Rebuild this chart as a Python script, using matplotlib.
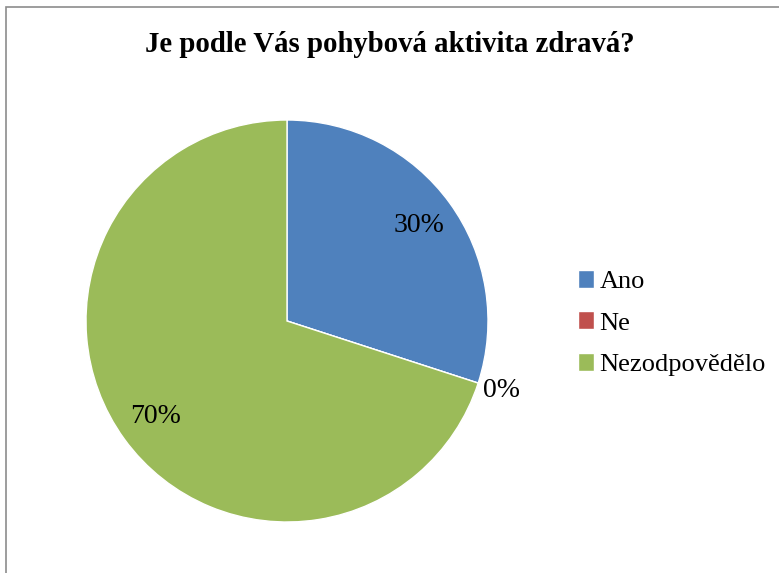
import matplotlib
matplotlib.use("Agg")
import matplotlib.pyplot as plt
from matplotlib.patches import Rectangle
import numpy as np

title = "Je podle Vás pohybová aktivita zdravá?"
categories = ["Ano", "Ne", "Nezodpovědělo"]
values = [30, 0, 70]
colors = ["#4F81BD", "#C0504D", "#9BBB59"]

plt.rcParams['font.family'] = ['Liberation Serif', 'DejaVu Serif']

W, H = 779, 573
fig = plt.figure(figsize=(W / 100, H / 100), dpi=100)

# border
fig.add_artist(Rectangle((6 / W, -0.1), 2, 1 - 7 / H + 0.1, transform=fig.transFigure,
                         fill=False, edgecolor="#8c8c8c", linewidth=1.2))

cx, cy, r = 287, 321, 201
ax = fig.add_axes([(cx - r) / W, (H - cy - r) / H, 2 * r / W, 2 * r / H])
wedges, texts, autotexts = ax.pie(values, colors=colors, startangle=90, counterclock=False,
                                  radius=1, autopct='%1.0f%%', pctdistance=0.81,
                                  wedgeprops=dict(edgecolor="white", linewidth=1),
                                  textprops=dict(fontsize=20, color="black"))
for v, t in zip(values, autotexts):
    if v == 0:
        x, y = t.get_position()
        t.set_position((x * 1.12 / 0.81, y * 1.12 / 0.81))
ax.set_xlim(-1, 1)
ax.set_ylim(-1, 1)
ax.set_aspect('equal')

fig.text(0.5, 1 - 45 / H, title, ha='center', va='center', fontsize=20.7, fontweight='bold')

fig.legend(wedges, categories, loc='center left', bbox_to_anchor=(578 / W, 1 - 323 / H),
           frameon=False, fontsize=19, handlelength=0.62, handleheight=0.68,
           handletextpad=0.2, labelspacing=0.68, borderpad=0, borderaxespad=0)

fig.savefig("out.png", dpi=100)
